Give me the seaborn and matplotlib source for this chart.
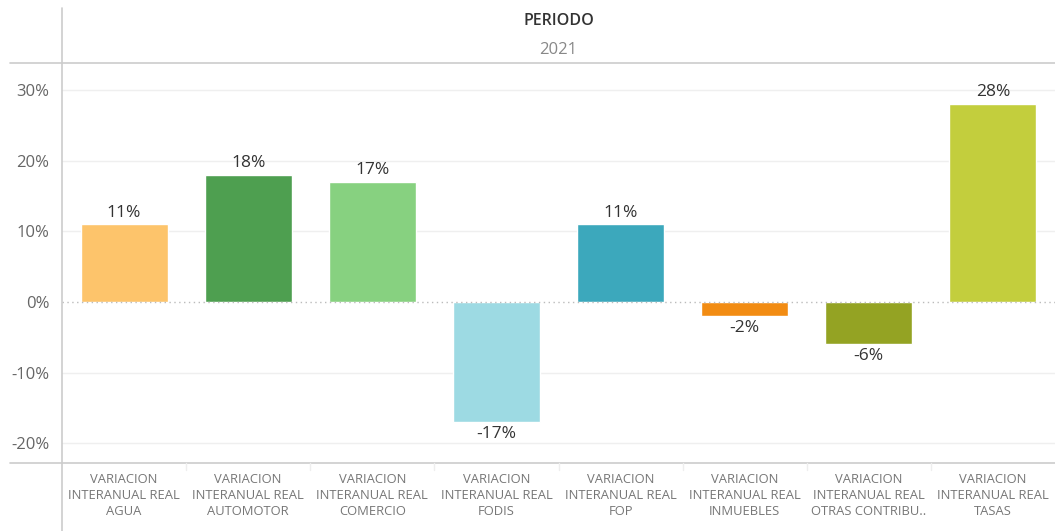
import matplotlib
matplotlib.use("Agg")
import matplotlib.pyplot as plt
import seaborn as sns
import pandas as pd
from matplotlib.ticker import FixedLocator

categories = ["AGUA", "AUTOMOTOR", "COMERCIO", "FODIS", "FOP", "INMUEBLES",
              "OTRAS CONTRIBU..", "TASAS"]
values = [11, 18, 17, -17, 11, -2, -6, 28]
colors = ["#FDC46B", "#4E9F50", "#87D180", "#9DDAE3", "#3CA8BC", "#F28C13",
          "#94A323", "#C3CE3D"]
tick_labels = ["VARIACION\nINTERANUAL REAL\n" + c for c in categories]
y_ticks = [-20, -10, 0, 10, 20, 30]
header_title = "PERIODO"
header_value = "2021"

sns.set_theme(style="white")
plt.rcParams["font.family"] = ["Open Sans", "DejaVu Sans"]

df = pd.DataFrame({"cat": tick_labels, "val": values})

W, H = 1055, 531
fig = plt.figure(figsize=(W / 100, H / 100), dpi=100)
ax = fig.add_axes([62 / W, (H - 463) / H, (W - 62) / W, (463 - 63) / H])

sns.barplot(data=df, x="cat", y="val", hue="cat", palette=colors,
            legend=False, width=0.7, ax=ax, saturation=1)

ax.set_ylim(-22.8, 33.8)
ax.set_xlim(-0.5, len(categories) - 0.5)
ax.yaxis.set_major_locator(FixedLocator(y_ticks))
ax.set_yticklabels([f"{t}%" for t in y_ticks], color="#666666", fontsize=12)
ax.tick_params(axis="y", length=0, pad=9)
ax.tick_params(axis="x", length=0, pad=7)
for lbl in ax.get_xticklabels():
    lbl.set_color("#777777")
    lbl.set_fontsize(9.4)
    lbl.set_linespacing(1.33)
ax.set_xlabel("")
ax.set_ylabel("")

for t in y_ticks:
    if t != 0:
        ax.axhline(t, color="#EFEFEF", lw=1, zorder=0)
ax.axhline(0, color="#BBBBBB", lw=1, ls=(0, (1, 2.5)), zorder=3)

for s in ["top", "right", "left", "bottom"]:
    ax.spines[s].set_visible(False)

for i, v in enumerate(values):
    if v >= 0:
        ax.text(i, v + 0.5, f"{v}%", ha="center", va="bottom", fontsize=12.5,
                color="#333333")
    else:
        ax.text(i, v - 0.5, f"{v}%", ha="center", va="top", fontsize=12.5,
                color="#333333")

# frame lines (Tableau style)
line_kw = dict(color="#CCCCCC", lw=1.2, transform=fig.transFigure)
fig.add_artist(plt.Line2D([62 / W, 62 / W], [0, 1 - 8 / H], **line_kw))
fig.add_artist(plt.Line2D([10 / W, 1], [1 - 63 / H, 1 - 63 / H], **line_kw))
fig.add_artist(plt.Line2D([10 / W, 1], [1 - 463 / H, 1 - 463 / H], **line_kw))
for k in range(1, len(categories)):
    x = (62 + k * (W - 62) / len(categories)) / W
    fig.add_artist(plt.Line2D([x, x], [1 - 463 / H, 1 - 470 / H],
                              color="#EEEEEE", lw=1, transform=fig.transFigure))

cx = (62 + W) / 2 / W
fig.text(cx, 1 - 21 / H, header_title, ha="center", va="center",
         fontsize=11.5, color="#333333", fontweight="semibold")
fig.text(cx, 1 - 50 / H, header_value, ha="center", va="center",
         fontsize=12, color="#888888")

fig.savefig("out.png", dpi=100)
